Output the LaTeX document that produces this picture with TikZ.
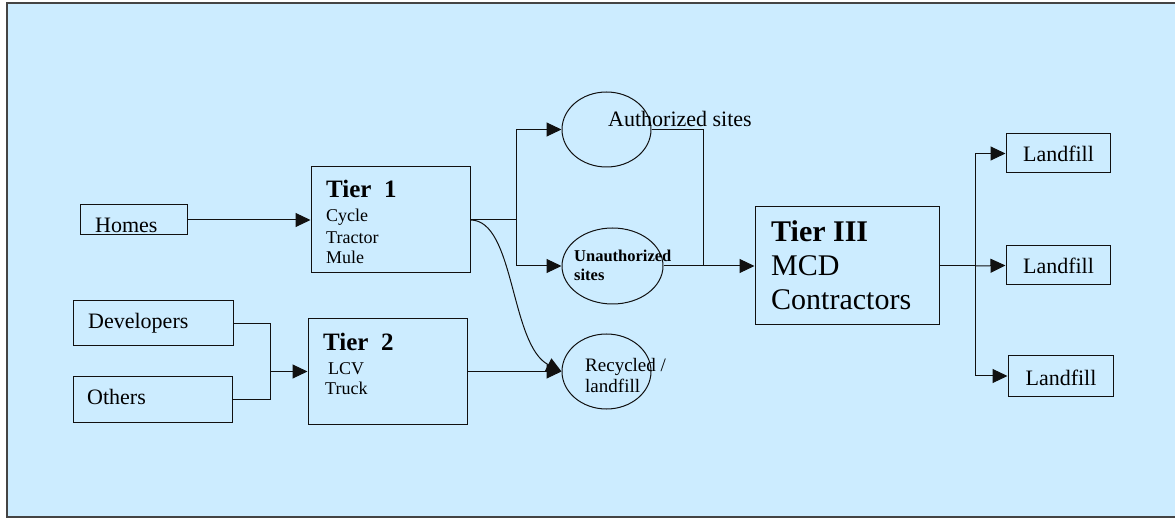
\documentclass[tikz,border=0pt]{standalone}
\usepackage{fontspec}
\setmainfont{Liberation Serif}
\usetikzlibrary{arrows.meta,shapes.geometric}
\definecolor{bg}{HTML}{CCECFF}
\definecolor{ln}{HTML}{111111}
\definecolor{fr}{HTML}{444444}
\begin{document}
\begin{tikzpicture}[x=1pt,y=-1pt,
  box/.style={draw=ln, line width=1pt, rectangle, inner sep=0pt},
  oval/.style={draw=ln, line width=1pt, ellipse, inner sep=0pt},
  txt/.style={anchor=base west, inner sep=0pt, text=black},
  link/.style={draw=ln, line width=1pt},
  arr/.style={link, -{Triangle[length=15pt,width=14pt]}},
  fa/.style={font=\rmfamily\fontsize{22}{26}\selectfont},
  fb/.style={font=\rmfamily\fontsize{18}{21}\selectfont},
  ft/.style={font=\rmfamily\bfseries\fontsize{25}{28}\selectfont},
  fu/.style={font=\rmfamily\bfseries\fontsize{16.5}{19}\selectfont},
  fr19/.style={font=\rmfamily\fontsize{19}{21}\selectfont},
  fiii/.style={font=\rmfamily\fontsize{30}{34}\selectfont}]
\useasboundingbox (0,0) rectangle (1175,518);
\clip (0,0) rectangle (1175,518);
\fill[white] (0,0) rectangle (1175,518);
\draw[fill=bg, draw=fr, line width=2pt] (6.5,3.5) rectangle (1190,517);

% boxes
\node[box, minimum width=107pt, minimum height=30pt] (homes) at (133.5,220) {};
\node[box, minimum width=159pt, minimum height=106pt] (tier1) at (390.5,220) {};
\node[box, minimum width=160pt, minimum height=45pt] (dev) at (153,323.5) {};
\node[box, minimum width=159pt, minimum height=45pt] (oth) at (152.5,399.5) {};
\node[box, minimum width=159pt, minimum height=105pt] (tier2) at (387.5,371.5) {};
\node[box, minimum width=184pt, minimum height=118pt] (tier3) at (847,266) {};
\node[box, minimum width=104pt, minimum height=39pt] (lf1) at (1058,153.5) {};
\node[box, minimum width=104pt, minimum height=39pt] (lf2) at (1058,265.5) {};
\node[box, minimum width=105pt, minimum height=40pt] (lf3) at (1060.5,376) {};

% ellipses
\node[oval, minimum width=89pt, minimum height=75pt] (auth) at (606.5,129.5) {};
\node[oval, minimum width=101pt, minimum height=76pt] (unauth) at (612.5,266) {};
\node[oval, minimum width=89pt, minimum height=75pt] (recy) at (606.5,371.5) {};

% texts
\node[txt, fa] (thomes) at (95,233) {Homes};
\node[txt, fa] (tdev) at (88,329) {Developers};
\node[txt, fa] (toth) at (87,404) {Others};
\node[txt, ft] (tt1) at (326,198) {Tier\ \ 1};
\node[txt, fb] (tcyc) at (326,222) {Cycle};
\node[txt, fb] (ttra) at (326,244) {Tractor};
\node[txt, fb] (tmul) at (326,264) {Mule};
\node[txt, ft] (tt2) at (323,351) {Tier\ \ 2};
\node[txt, fb] (tlcv) at (328,374) {LCV};
\node[txt, fb] (ttru) at (325,395) {Truck};
\node[txt, fa] (tauth) at (608,127) {Authorized sites};
\node[txt, fu] (tun1) at (574,262) {Unauthorized};
\node[txt, fu] (tun2) at (574,281) {sites};
\node[txt, fr19] (trec1) at (585,371) {Recycled /};
\node[txt, fr19] (trec2) at (585,392) {landfill};
\node[txt, font=\rmfamily\bfseries\fontsize{30}{34}\selectfont] (tt3) at (771,242) {Tier III};
\node[txt, fiii] (tmcd) at (771,276) {MCD};
\node[txt, fiii] (tcon) at (771,310) {Contractors};
\node[fa, inner sep=0pt, anchor=base] (tlf1) at (1058.5,162) {Landfill};
\node[fa, inner sep=0pt, anchor=base] (tlf2) at (1058.5,274) {Landfill};
\node[fa, inner sep=0pt, anchor=base] (tlf3) at (1061,385) {Landfill};

% junctions
\coordinate (j1) at (516,220);
\coordinate (j2) at (703,266);
\coordinate (j3) at (975,266);
\coordinate (j4) at (270,371.5);

% connectors
\draw[arr] (homes.east) -- (tier1.west);
\draw[link] (tier1.east) -- (j1);
\draw[arr] (j1) |- (auth.west);
\draw[arr] (j1) |- (unauth.west);
\draw[arr] (tier1.east) .. controls (515,220) and (510,345) .. (recy.west);
\draw[link] (dev.east) -| (j4);
\draw[link] (oth.east) -| (j4);
\draw[arr] (j4) -- (tier2.west);
\draw[arr] (tier2.east) -- (recy.west);
\draw[link] (auth.east) -| (j2);
\draw[arr] (unauth.east) -- (tier3.west);
\draw[link] (tier3.east) -- (j3);
\draw[arr] (j3) |- (lf1.west);
\draw[arr] (j3) -- (lf2.west);
\draw[arr] (j3) |- (lf3.west);
\end{tikzpicture}
\end{document}
